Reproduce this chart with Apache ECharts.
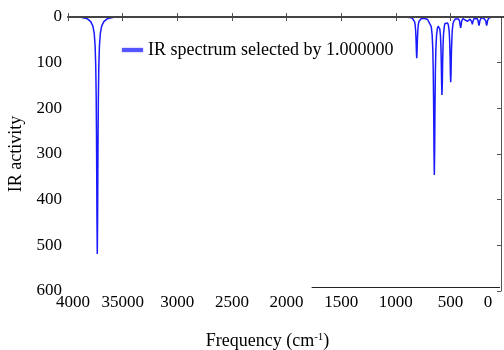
<!DOCTYPE html>
<html>
<head>
<meta charset="utf-8">
<script src="https://cdn.jsdelivr.net/npm/echarts@6/dist/echarts.min.js"></script>
<style>
  html, body { margin: 0; padding: 0; background: #fff; }
  #main { width: 504px; height: 350px; }
</style>
</head>
<body>
<div id="main"></div>
<script>
// 曲线数据 (cm-1, IR activity)
var freqs = [4000, 3940, 3882, 3822, 3792, 3772, 3760, 3752, 3746, 3742, 3739, 3737, 3735, 3732,
  3729, 3727, 3725, 3722, 3718, 3712, 3704, 3692, 3672, 3642, 3582, 3520, 3000,
  1100, 1000, 900, 868, 848, 836, 828, 822, 818, 815, 813, 811, 808, 805, 803, 801, 798, 794, 788,
  780, 768, 748, 728, 708, 690, 675, 667, 661, 657, 654, 652, 650, 647, 644, 642, 640, 637, 633,
  627, 619, 612, 605, 597, 591, 587, 584, 582, 580, 577, 574, 572, 570, 567, 563, 556, 549, 537,
  525, 518, 511, 507, 504, 502, 500, 497, 494, 492, 490, 486, 483, 476, 469, 455, 440, 425, 416,
  413, 410, 406, 402, 399, 396, 385, 372, 366, 363, 360, 357, 354, 348, 342, 339, 336, 333, 330,
  320, 310, 305, 302, 299, 296, 293, 285, 270, 255, 246, 242, 238, 234, 230, 220, 200, 185, 176,
  172, 168, 164, 160, 150, 130, 100, 0];
var activity = [0, 0, 0.8, 4, 10, 20, 36, 62, 108, 175, 262, 345, 438, 519,
  438, 345, 262, 175, 108, 62, 36, 20, 10, 4, 0.8, 0, 0,
  0, 0, 0.5, 1.3, 2.8, 5.4, 10, 18, 30, 45, 59, 76, 90, 76, 59, 45, 30, 18, 10,
  6, 4, 3, 3.7, 5.4, 9.7, 21, 39, 70, 115, 173, 229, 292, 346, 294, 231, 175, 116, 72,
  41, 25, 20, 20, 26, 40, 61, 90, 117, 148, 171, 148, 117, 90, 61, 38, 21, 14, 11,
  13, 18, 31, 50, 74, 95, 124, 143, 124, 95, 73, 48, 30, 15, 9, 4.4, 3, 4.3, 9,
  13, 19, 24, 19, 13, 8.3, 3.3, 3.8, 6.6, 8.5, 9, 8.5, 7.4, 6, 9.2, 12, 13, 12, 8.9,
  4.5, 5.5, 10, 14, 16, 14, 9.6, 3.6, 1.8, 3.2, 8.4, 14.3, 19, 14.3, 8.2, 2.9, 1.5, 3.1, 8.4,
  14.3, 19, 14.3, 8.2, 2.8, 0.6, 0, 0];

// 刻度
var xTickValues = [4000, 3500, 3000, 2500, 2000, 1500, 1000, 500, 0];
var xTickLabels = ['4000', '35000', '3000', '2500', '2000', '1500', '1000', '500', '0'];
var yTickValues = [0, 100, 200, 300, 400, 500, 600];
var yTickLabels = ['0', '100', '200', '300', '400', '500', '600'];

var seriesName = 'IR spectrum selected by 1.000000';
var serif = 'Liberation Serif';

var points = [];
for (var i = 0; i < freqs.length; i++) {
  points.push([freqs[i], activity[i]]);
}

function xLabel(value) {
  var idx = xTickValues.indexOf(value);
  if (idx < 0) return '';
  var txt = xTickLabels[idx];
  if (value === 4000) return '{first|' + txt + '}';
  if (value === 0) return '{last|' + txt + '}';
  return txt;
}
function yLabel(value) {
  var idx = yTickValues.indexOf(value);
  return idx < 0 ? '' : yTickLabels[idx];
}

var axisColor = '#555';

var option = {
  animation: false,
  backgroundColor: '#fff',
  grid: {
    left: 68,
    right: -1,
    top: 17,
    bottom: 59,
    containLabel: false,
    outerBoundsMode: 'none'
  },
  legend: {
    left: 117,
    top: 36,
    icon: 'rect',
    itemWidth: 21,
    itemHeight: 4,
    itemStyle: {
      color: 'rgba(70,70,255,0.85)',
      shadowBlur: 2,
      shadowColor: 'rgba(0,0,255,0.5)'
    },
    textStyle: {
      fontFamily: serif,
      fontSize: 18,
      color: '#000'
    },
    data: [seriesName]
  },
  xAxis: [{
    type: 'value',
    position: 'bottom',
    inverse: true,
    min: 0,
    max: 4000,
    interval: 500,
    splitLine: { show: false },
    axisLine: { lineStyle: { color: axisColor, width: 1 } },
    axisTick: { inside: true, length: 4, lineStyle: { color: axisColor } },
    axisLabel: {
      fontFamily: serif,
      fontSize: 17,
      color: '#000',
      margin: 3,
      formatter: xLabel,
      rich: {
        first: { fontFamily: serif, fontSize: 17, color: '#000', padding: [0, 0, 0, 10] },
        last: { fontFamily: serif, fontSize: 17, color: '#000', padding: [0, 34, 0, 0] }
      }
    },
    name: 'Frequency (cm{sup|-1})',
    nameLocation: 'middle',
    nameGap: 41,
    nameTextStyle: {
      fontFamily: serif,
      fontSize: 18,
      color: '#000',
      padding: [0, 38, 0, 0],
      rich: {
        sup: { fontFamily: serif, fontSize: 11, color: '#000', verticalAlign: 'top', padding: [0, 0, 8, 0] }
      }
    }
  }, {
    type: 'value',
    position: 'top',
    inverse: true,
    min: 0,
    max: 4000,
    interval: 500,
    z: 5,
    splitLine: { show: false },
    axisLine: { lineStyle: { color: '#444', width: 2 } },
    axisTick: { inside: true, length: 4, lineStyle: { color: axisColor } },
    axisLabel: { show: false }
  }],
  yAxis: [{
    type: 'value',
    position: 'left',
    inverse: true,
    min: 0,
    max: 600,
    interval: 100,
    splitLine: { show: false },
    axisLine: { show: true, lineStyle: { color: axisColor, width: 1 } },
    axisTick: { show: true, inside: true, length: 4, lineStyle: { color: axisColor } },
    axisLabel: {
      fontFamily: serif,
      fontSize: 17,
      color: '#000',
      margin: 6,
      formatter: yLabel
    },
    name: 'IR activity',
    nameLocation: 'middle',
    nameRotate: 90,
    nameGap: 42,
    nameTextStyle: {
      fontFamily: serif,
      fontSize: 18,
      color: '#000'
    }
  }, {
    type: 'value',
    position: 'right',
    offset: -4,
    inverse: true,
    min: 0,
    max: 600,
    interval: 100,
    splitLine: { show: false },
    axisLine: { show: true, lineStyle: { color: axisColor, width: 1 } },
    axisTick: { show: true, inside: true, length: 4, lineStyle: { color: axisColor } },
    axisLabel: { show: false }
  }],
  series: [{
    name: seriesName,
    type: 'line',
    z: 1,
    xAxisIndex: 0,
    yAxisIndex: 0,
    showSymbol: false,
    symbol: 'none',
    clip: true,
    lineStyle: { color: '#1a1aff', width: 1.5 },
    itemStyle: { color: '#1a1aff' },
    data: points,
    markLine: {
      silent: true,
      symbol: 'none',
      label: { show: false },
      lineStyle: { color: '#222', width: 1, type: 'solid' },
      data: [[{ coord: [1770, 591] }, { coord: [45, 591] }]]
    }
  }]
};

var chart = echarts.init(document.getElementById('main'), null, { renderer: 'canvas' });
chart.setOption(option);
</script>
</body>
</html>
